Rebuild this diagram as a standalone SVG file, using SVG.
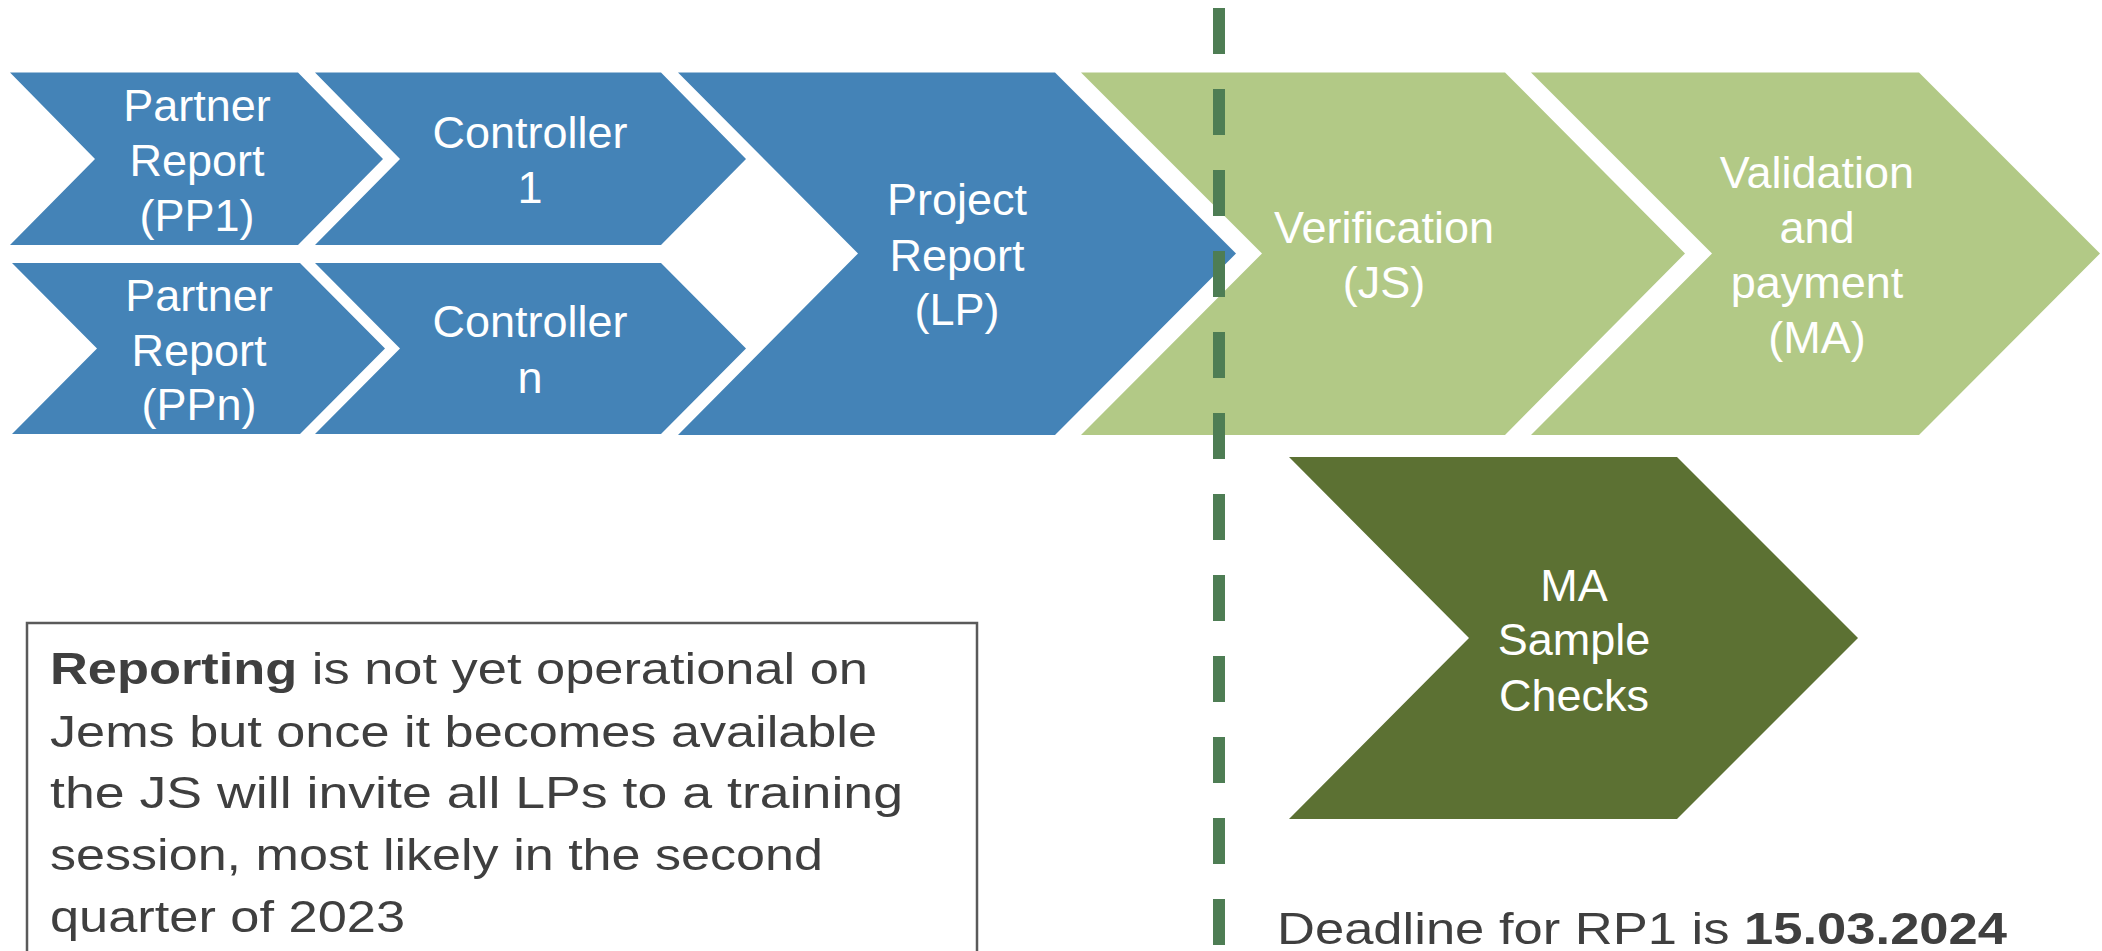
<svg xmlns="http://www.w3.org/2000/svg" width="2102" height="951" viewBox="0 0 2102 951">
<style>
.blue{fill:#4483b7}
.lgreen{fill:#b2c986}
.dgreen{fill:#5c7133}
.lbl{font-family:'Liberation Sans',Arial,sans-serif;font-size:45px;fill:#ffffff;text-anchor:middle}
.body{font-family:'Liberation Sans',Arial,sans-serif;font-size:45px;fill:#3f3f3f}
</style>
<rect width="2102" height="951" fill="#ffffff"/>
<g id="pp1">
<polygon class="blue" points="10,72.5 298,72.5 383,159 298,245 10,245 95,159"/>
<text class="lbl" x="197" y="121">Partner</text>
<text class="lbl" x="197" y="176">Report</text>
<text class="lbl" x="197" y="231">(PP1)</text>
</g>
<g id="controller1">
<polygon class="blue" points="315,72.5 661,72.5 746,159 661,245 315,245 400,159"/>
<text class="lbl" x="530" y="148">Controller</text>
<text class="lbl" x="530" y="203">1</text>
</g>
<g id="ppn">
<polygon class="blue" points="12,263 300,263 385,348.5 300,434 12,434 97,348.5"/>
<text class="lbl" x="199" y="311">Partner</text>
<text class="lbl" x="199" y="366">Report</text>
<text class="lbl" x="199" y="420">(PPn)</text>
</g>
<g id="controllern">
<polygon class="blue" points="315,263 661,263 746,348.5 661,434 315,434 400,348.5"/>
<text class="lbl" x="530" y="337">Controller</text>
<text class="lbl" x="530" y="393">n</text>
</g>
<g id="project-report">
<polygon class="blue" points="678,72.5 1055,72.5 1236,253.5 1055,435 678,435 858,253.5"/>
<text class="lbl" x="957" y="215">Project</text>
<text class="lbl" x="957" y="271">Report</text>
<text class="lbl" x="957" y="325">(LP)</text>
</g>
<g id="verification">
<polygon class="lgreen" points="1081,72.5 1505,72.5 1685,253.5 1505,435 1081,435 1262,253.5"/>
<text class="lbl" x="1384" y="243">Verification</text>
<text class="lbl" x="1384" y="298">(JS)</text>
</g>
<g id="validation">
<polygon class="lgreen" points="1531,72.5 1919,72.5 2100,253.5 1919,435 1531,435 1712,253.5"/>
<text class="lbl" x="1817" y="188">Validation</text>
<text class="lbl" x="1817" y="243">and</text>
<text class="lbl" x="1817" y="298">payment</text>
<text class="lbl" x="1817" y="353">(MA)</text>
</g>
<g id="ma-sample-checks">
<polygon class="dgreen" points="1289,457 1677,457 1858,638 1677,819 1289,819 1469,638"/>
<text class="lbl" x="1574" y="601">MA</text>
<text class="lbl" x="1574" y="655">Sample</text>
<text class="lbl" x="1574" y="711">Checks</text>
</g>
<g id="connectors">
<line x1="1219" y1="8" x2="1219" y2="951" stroke="#4e7d54" stroke-width="12" stroke-dasharray="46 35"/>
</g>
<g id="note">
<rect x="27" y="623" width="950" height="340" fill="none" stroke="#5a5a5a" stroke-width="2.5"/>
<text class="body" x="50" y="684" textLength="818" lengthAdjust="spacingAndGlyphs"><tspan font-weight="bold">Reporting</tspan> is not yet operational on</text>
<text class="body" x="50" y="747" textLength="827" lengthAdjust="spacingAndGlyphs">Jems but once it becomes available</text>
<text class="body" x="50" y="808" textLength="853" lengthAdjust="spacingAndGlyphs">the JS will invite all LPs to a training</text>
<text class="body" x="50" y="870" textLength="773" lengthAdjust="spacingAndGlyphs">session, most likely in the second</text>
<text class="body" x="50" y="932" textLength="355" lengthAdjust="spacingAndGlyphs">quarter of 2023</text>
</g>
<g id="deadline">
<text class="body" x="1277" y="944" font-size="43" fill="#404040" textLength="730" lengthAdjust="spacingAndGlyphs">Deadline for RP1 is <tspan font-weight="bold">15.03.2024</tspan></text>
</g>
</svg>
